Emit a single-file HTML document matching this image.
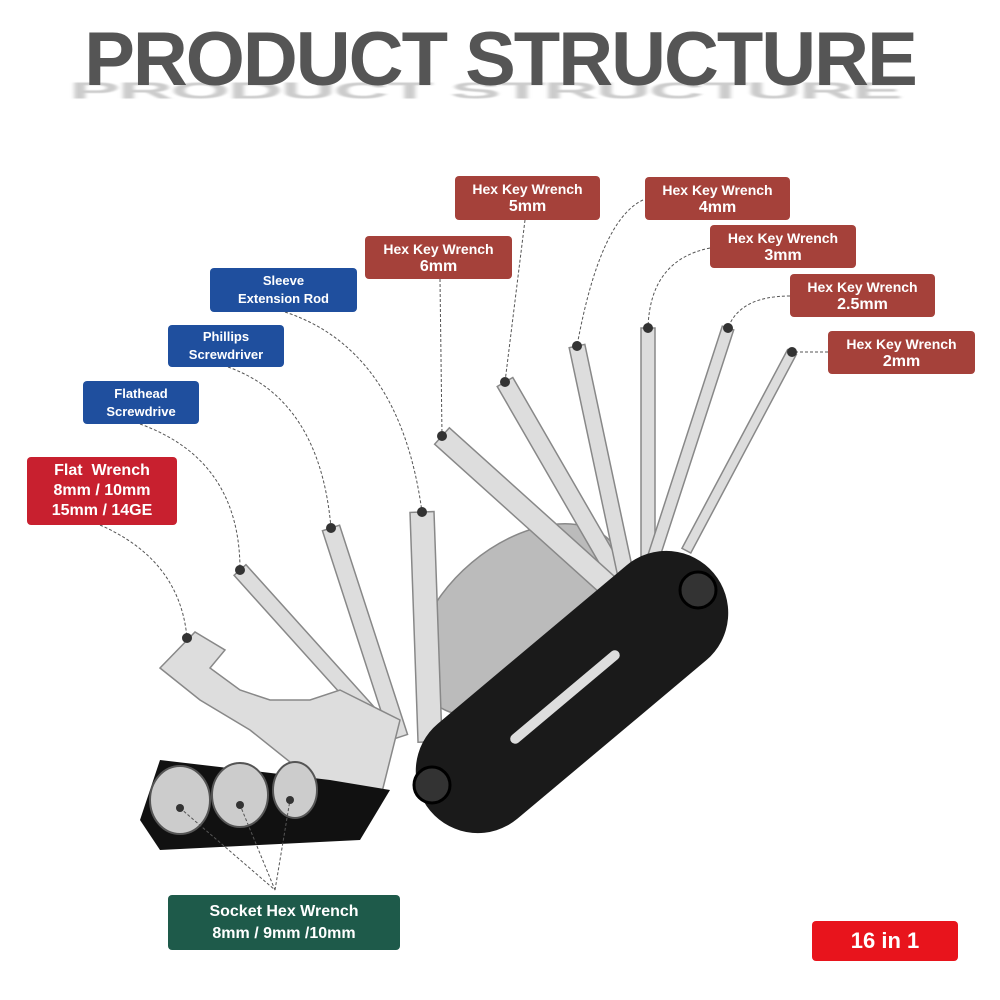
<!DOCTYPE html>
<html><head><style>
body{margin:0;width:1000px;height:1000px;background:#fff;overflow:hidden;position:relative;font-family:"Liberation Sans",Arial,sans-serif}
.t{position:absolute;left:0;width:1000px;text-align:center;font-weight:bold;font-size:76px;color:#555;letter-spacing:-2px}
.l{position:absolute;color:#fff;font-weight:bold;text-align:center;border-radius:4px;font-size:14px;line-height:18px;display:flex;flex-direction:column;justify-content:center}
.r{background:#a5413a}.b{background:#1f4f9e}
</style></head><body>
<div class="t" style="color:#ccc;filter:blur(2px);transform:scaleY(.3);transform-origin:top;top:78px;left:-15px">PRODUCT STRUCTURE</div>
<div class="t" style="top:16px">PRODUCT STRUCTURE</div>
<svg width="1000" height="1000" style="position:absolute;left:0;top:0">
<g fill="#ddd" stroke="#888" stroke-width="1.5">
<ellipse cx="520" cy="620" rx="120" ry="75" transform="rotate(-40 520 620)" fill="#bbb"/>
<rect x="-9" y="0" width="18" height="230" transform="translate(505,382) rotate(-30)"/>
<rect x="-8" y="0" width="16" height="240" transform="translate(577,346) rotate(-12)"/>
<rect x="-7" y="0" width="14" height="250" transform="translate(648,328) rotate(0)"/>
<rect x="-6" y="0" width="12" height="240" transform="translate(728,328) rotate(18)"/>
<rect x="-5" y="0" width="10" height="225" transform="translate(792,352) rotate(28)"/>
<rect x="-11" y="0" width="22" height="230" transform="translate(442,436) rotate(-48)"/>
<rect x="-12" y="0" width="24" height="230" transform="translate(422,512) rotate(-2)"/>
<rect x="-9" y="0" width="18" height="220" transform="translate(331,528) rotate(-18)"/>
<rect x="-8" y="0" width="16" height="220" transform="translate(240,570) rotate(-42)"/>
<path d="M160,668 L195,632 L225,650 L210,668 L240,690 L270,700 L310,700 L340,690 L400,720 L380,800 L330,790 L300,770 L250,730 L200,700 Z" fill="#ddd"/>
</g>
<path d="M140,820 L160,760 L330,780 L390,790 L360,840 L160,850 Z" fill="#111"/>
<g fill="#ccc" stroke="#555" stroke-width="2">
<ellipse cx="180" cy="800" rx="30" ry="34"/><ellipse cx="240" cy="795" rx="28" ry="32"/><ellipse cx="295" cy="790" rx="22" ry="28"/>
</g>
<rect x="-62" y="-185" width="124" height="370" rx="62" fill="#1a1a1a" transform="translate(572,692) rotate(50)"/>
<rect x="-5" y="-70" width="10" height="140" rx="5" fill="#ddd" transform="translate(565,697) rotate(50)"/>
<circle cx="698" cy="590" r="18" fill="#333" stroke="#000" stroke-width="3"/>
<circle cx="432" cy="785" r="18" fill="#333" stroke="#000" stroke-width="3"/>
<g fill="none" stroke="#555" stroke-width="1" stroke-dasharray="3,2">
<path d="M525,220 L505,382"/><path d="M643,200 Q600,220 577,346"/><path d="M710,248 Q650,260 648,328"/>
<path d="M790,296 Q740,296 728,328"/><path d="M828,352 L792,352"/><path d="M440,279 L442,436"/>
<path d="M285,312 Q400,350 422,512"/><path d="M228,367 Q320,400 331,528"/><path d="M140,424 Q240,460 240,570"/>
<path d="M100,525 Q180,560 187,638"/><path d="M180,808 L275,890 L240,805 M275,890 L290,800"/>
</g>
<g fill="#333">
<circle cx="505" cy="382" r="5"/><circle cx="577" cy="346" r="5"/><circle cx="648" cy="328" r="5"/><circle cx="728" cy="328" r="5"/><circle cx="792" cy="352" r="5"/><circle cx="442" cy="436" r="5"/><circle cx="422" cy="512" r="5"/><circle cx="331" cy="528" r="5"/><circle cx="240" cy="570" r="5"/><circle cx="187" cy="638" r="5"/><circle cx="180" cy="808" r="4"/><circle cx="240" cy="805" r="4"/><circle cx="290" cy="800" r="4"/>
</g>
</svg>
<div class="l r" style="left:455px;top:176px;width:145px;height:44px">Hex Key Wrench<span style="font-size:16px">5mm</span></div>
<div class="l r" style="left:645px;top:177px;width:145px;height:43px">Hex Key Wrench<span style="font-size:16px">4mm</span></div>
<div class="l r" style="left:710px;top:225px;width:146px;height:43px">Hex Key Wrench<span style="font-size:16px">3mm</span></div>
<div class="l r" style="left:790px;top:274px;width:145px;height:43px">Hex Key Wrench<span style="font-size:16px">2.5mm</span></div>
<div class="l r" style="left:828px;top:331px;width:147px;height:43px">Hex Key Wrench<span style="font-size:16px">2mm</span></div>
<div class="l r" style="left:365px;top:236px;width:147px;height:43px">Hex Key Wrench<span style="font-size:16px">6mm</span></div>
<div class="l b" style="left:210px;top:268px;width:147px;height:44px;font-size:13px">Sleeve<br>Extension Rod</div>
<div class="l b" style="left:168px;top:325px;width:116px;height:42px;font-size:13px">Phillips<br>Screwdriver</div>
<div class="l b" style="left:83px;top:381px;width:116px;height:43px;font-size:13px">Flathead<br>Screwdrive</div>
<div class="l" style="left:27px;top:457px;width:150px;height:68px;background:#c8202f;font-size:16px;line-height:20px">Flat&nbsp; Wrench<br>8mm / 10mm<br>15mm / 14GE</div>
<div class="l" style="left:168px;top:895px;width:232px;height:55px;background:#1e5a4a;font-size:16px;line-height:22px">Socket Hex Wrench<br>8mm / 9mm /10mm</div>
<div class="l" style="left:812px;top:921px;width:146px;height:40px;background:#e8141c;font-size:22px">16 in 1</div>
</body></html>
